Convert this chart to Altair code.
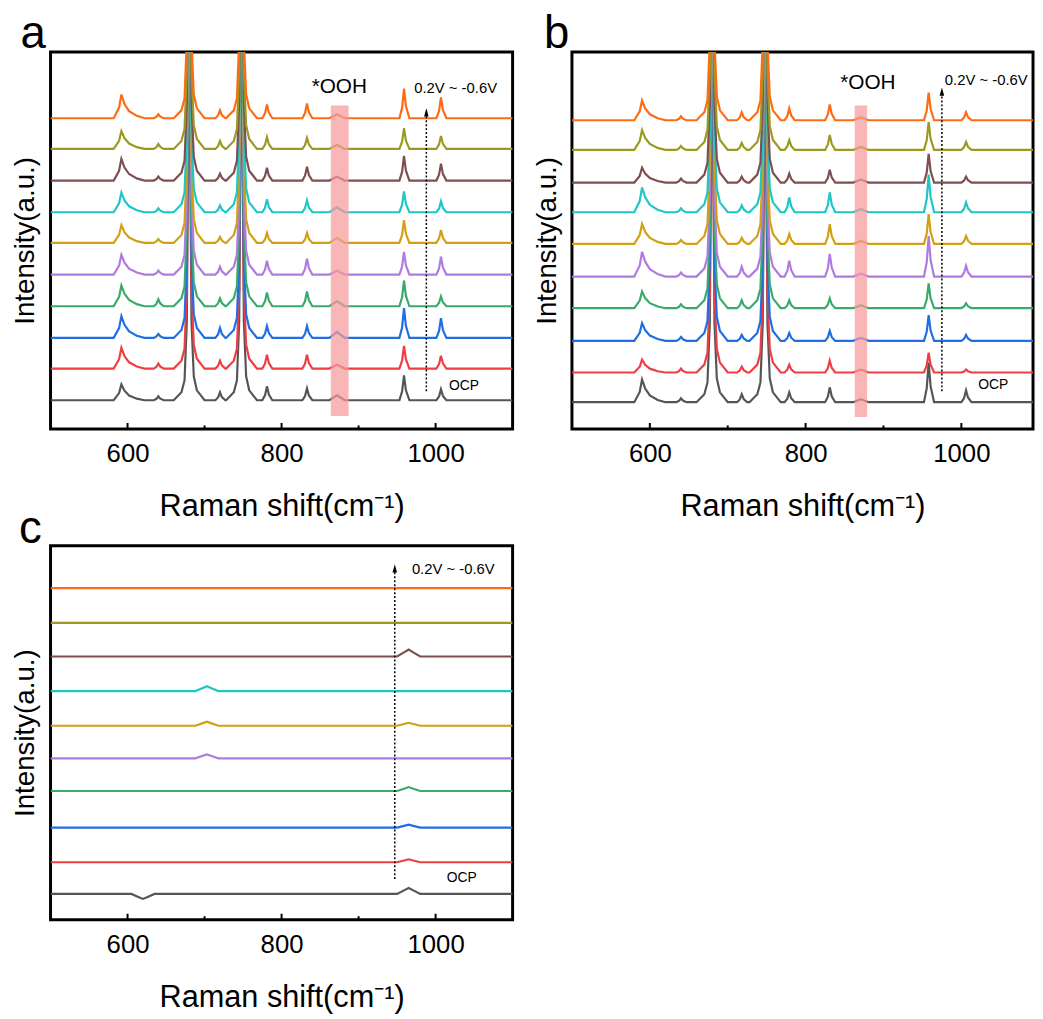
import altair as alt
import pandas as pd

FONT = "Liberation Sans"

SERIES = ["OCP", "0.2V", "0.1V", "0.0V", "-0.1V", "-0.2V", "-0.3V", "-0.4V", "-0.5V", "-0.6V"]
COLORS = ["#555555", "#ef3e43", "#1f6fe2", "#3aaa6b", "#b07be1",
          "#d3a013", "#1ec6c8", "#7e4f51", "#9b9a1f", "#ff6b12"]

# peak profiles: (offset from centre in cm-1, fraction of peak height)
SHAPES = {
    "sharp": [(-6, 0), (-2.5, 0.35), (0, 1), (2.5, 0.4), (7, 0)],
    "tail": [(-10, 0), (-3, 0.45), (0, 1), (4, 0.6), (10, 0.3), (20, 0.1), (30, 0)],
    "strong": [(-20, 0), (-10, 0.02), (-6, 0.05), (-3, 0.2), (0, 1), (3, 0.2), (6, 0.06), (10, 0.025), (20, 0)],
    "weak": [(-10, 0), (-4, 0.6), (0, 1), (4, 0.6), (10, 0)],
    "wide": [(-15, 0), (-6, 0.6), (0, 1), (6, 0.6), (15, 0)],
}

# ---------------- panel a ----------------
PEAKS_A = [592, 640, 680, 720, 748, 781, 833, 872, 959, 1007]
KINDS_A = ["tail", "sharp", "strong", "sharp", "strong", "sharp", "sharp", "weak", "sharp", "sharp"]
HEIGHTS_A = [
    [16, 4, 400, 8, 400, 14, 12, 5, 25, 11],
    [21, 5, 400, 8, 400, 14, 14, 4, 23, 13],
    [22, 4, 400, 10, 400, 12, 12, 6, 30, 20],
    [21, 7, 400, 8, 400, 14, 15, 5, 26, 10],
    [20, 4, 400, 8, 400, 14, 16, 4, 23, 18],
    [18, 4, 400, 6, 400, 10, 10, 5, 23, 13],
    [20, 4, 400, 7, 400, 13, 12, 5, 21, 11],
    [22, 4, 400, 7, 400, 13, 14, 4, 25, 17],
    [18, 5, 400, 8, 400, 12, 11, 4, 21, 13],
    [24, 4, 400, 8, 400, 14, 15, 4, 30, 21],
]
OFFSETS_A = [29, 61, 92, 124, 156, 188, 219, 251, 283, 314]

# ---------------- panel b ----------------
PEAKS_B = [590, 640, 680, 718, 748, 779, 831, 871, 958, 1006]
KINDS_B = ["tail", "sharp", "strong", "sharp", "strong", "sharp", "sharp", "weak", "sharp", "sharp"]
HEIGHTS_B = [
    [23, 4, 400, 8, 400, 10, 15, 3, 40, 12],
    [13, 4, 400, 6, 400, 8, 12, 3, 20, 3],
    [18, 4, 400, 6, 400, 8, 10, 3, 26, 6],
    [17, 4, 400, 8, 400, 8, 10, 3, 25, 5],
    [25, 4, 400, 10, 400, 16, 23, 3, 41, 11],
    [20, 4, 400, 6, 400, 10, 20, 3, 30, 8],
    [25, 4, 400, 7, 400, 15, 20, 3, 38, 10],
    [15, 4, 400, 6, 400, 9, 13, 3, 29, 6],
    [20, 4, 400, 7, 400, 10, 15, 3, 28, 8],
    [20, 4, 400, 8, 400, 12, 16, 3, 28, 8],
]
OFFSETS_B = [27, 57, 89, 122, 154, 187, 219, 249, 282, 312]

# ---------------- panel c ----------------
PEAKS_C = [620, 703, 965]
KINDS_C = ["wide", "wide", "wide"]
HEIGHTS_C = [
    [-5, 0, 6],
    [0, 0, 3],
    [0, 0, 3],
    [0, 0, 4],
    [0, 4, 0],
    [0, 4, 3],
    [0, 5, 0],
    [0, 0, 7],
    [0, 0, 0],
    [0, 0, 0],
]
OFFSETS_C = [26, 58, 93, 130, 163, 196, 231, 266, 300, 335]

X_ENDS = [500, 1100]
MAJOR_TICKS = [600, 800, 1000]
MINOR_TICKS = [700, 900]


def spectra_table(peaks, kinds, heights, offsets):
    rows = []
    for k, name in enumerate(SERIES):
        pts = [(X_ENDS[0], 0.0), (X_ENDS[1], 0.0)]
        for c, kind, h in zip(peaks, kinds, heights[k]):
            for dx, f in SHAPES[kind]:
                pts.append((c + dx, f * h))
        pts.sort()
        for x, y in pts:
            rows.append({"shift": x, "intensity": offsets[k] + y, "series": name, "k": k})
    return pd.DataFrame(rows)


def panel(letter, table, width, height, xdom, band, arrow, volt, ooh, ocp):
    xenc = alt.X("shift:Q", scale=alt.Scale(domain=xdom, nice=False, zero=False),
                 axis=alt.Axis(values=MAJOR_TICKS, format="d", title="Raman shift(cm⁻¹)", grid=False,
                               domain=False, ticks=False, tickSize=0, labelPadding=12,
                               labelFontSize=26, titleFontSize=31, titlePadding=26,
                               labelFont=FONT, titleFont=FONT, labelColor="black",
                               titleColor="black", titleFontWeight="normal"))
    yenc = alt.Y("intensity:Q", scale=alt.Scale(domain=[0, height], nice=False, zero=False),
                 axis=alt.Axis(title="Intensity(a.u.)", labels=False, ticks=False, tickSize=0,
                               domain=False, grid=False, titleFontSize=28, titlePadding=11,
                               titleFont=FONT, titleColor="black", titleFontWeight="normal"))

    lines = alt.Chart(table).mark_line(strokeWidth=2.2, clip=True).encode(
        x=xenc, y=yenc,
        color=alt.Color("series:N", scale=alt.Scale(domain=SERIES, range=COLORS), legend=None),
        order=alt.Order("shift:Q"),
    )
    layers = [lines]

    if band is not None:
        bdf = pd.DataFrame([{"shift": band[0], "shift_end": band[1],
                             "intensity": band[2], "intensity_end": band[3]}])
        layers.append(alt.Chart(bdf).mark_rect(color="#f59a9a", opacity=0.72).encode(
            x=xenc, x2="shift_end:Q", y=yenc, y2="intensity_end:Q"))

    adf = pd.DataFrame([{"shift": arrow[0], "intensity": arrow[1], "intensity_end": arrow[2]}])
    layers.append(alt.Chart(adf).mark_rule(color="black", strokeWidth=1.5, strokeDash=[2, 2]).encode(
        x=xenc, y=yenc, y2="intensity_end:Q"))
    hdf = pd.DataFrame([{"shift": arrow[0], "intensity": arrow[2] + 3}])
    layers.append(alt.Chart(hdf).mark_point(shape="M-0.55,1L0,-1L0.55,1Z", filled=True, size=70,
                                            color="black", opacity=1).encode(x=xenc, y=yenc))

    def label(pos, txt, size, align="center", baseline="middle"):
        d = pd.DataFrame([{"shift": pos[0], "intensity": pos[1], "label": txt}])
        return alt.Chart(d).mark_text(font=FONT, fontSize=size, color="black",
                                      align=align, baseline=baseline).encode(
            x=xenc, y=yenc, text="label:N")

    layers.append(label(volt, "0.2V ~ -0.6V", 15))
    if ooh is not None:
        layers.append(label(ooh, "*OOH", 21))
    layers.append(label(ocp, "OCP", 14))
    # panel letter, placed in data units just above the frame
    layers.append(label(letter[1], letter[0], 46, align="left", baseline="alphabetic"))

    tdf = pd.DataFrame({"shift": MAJOR_TICKS, "intensity": [0] * 3, "intensity_end": [6] * 3})
    layers.append(alt.Chart(tdf).mark_rule(color="black", strokeWidth=2).encode(
        x=xenc, y=yenc, y2="intensity_end:Q"))
    mdf = pd.DataFrame({"shift": MINOR_TICKS, "intensity": [0] * 2, "intensity_end": [3.5] * 2})
    layers.append(alt.Chart(mdf).mark_rule(color="black", strokeWidth=2).encode(
        x=xenc, y=yenc, y2="intensity_end:Q"))

    return alt.layer(*layers).properties(width=width, height=height)


pa = panel(("a", (461, 385)), spectra_table(PEAKS_A, KINDS_A, HEIGHTS_A, OFFSETS_A), 467, 381,
           [500, 1100], band=(864, 887, 13, 327), arrow=(988, 38, 317), volt=(1026, 345),
           ooh=(875, 346), ocp=(1037, 43))
pb = panel(("b", (464, 385)), spectra_table(PEAKS_B, KINDS_B, HEIGHTS_B, OFFSETS_B), 466, 381,
           [500, 1092], band=(863, 879, 12, 327), arrow=(975, 38, 338), volt=(1032, 353),
           ooh=(880, 350), ocp=(1041, 44))
pc = panel(("c", (459, 381)), spectra_table(PEAKS_C, KINDS_C, HEIGHTS_C, OFFSETS_C), 467, 378,
           [500, 1100], band=None, arrow=(947, 41, 352), volt=(1023, 354), ooh=None,
           ocp=(1034, 42))

chart = alt.vconcat(alt.hconcat(pa, pb, spacing=17), pc, spacing=-20).properties(
    padding={"left": 2, "top": -4, "right": 0, "bottom": 0}, background="white"
).configure_view(stroke="black", strokeWidth=3)

chart.save("out.html", embed_options={"renderer": "svg", "actions": False})
